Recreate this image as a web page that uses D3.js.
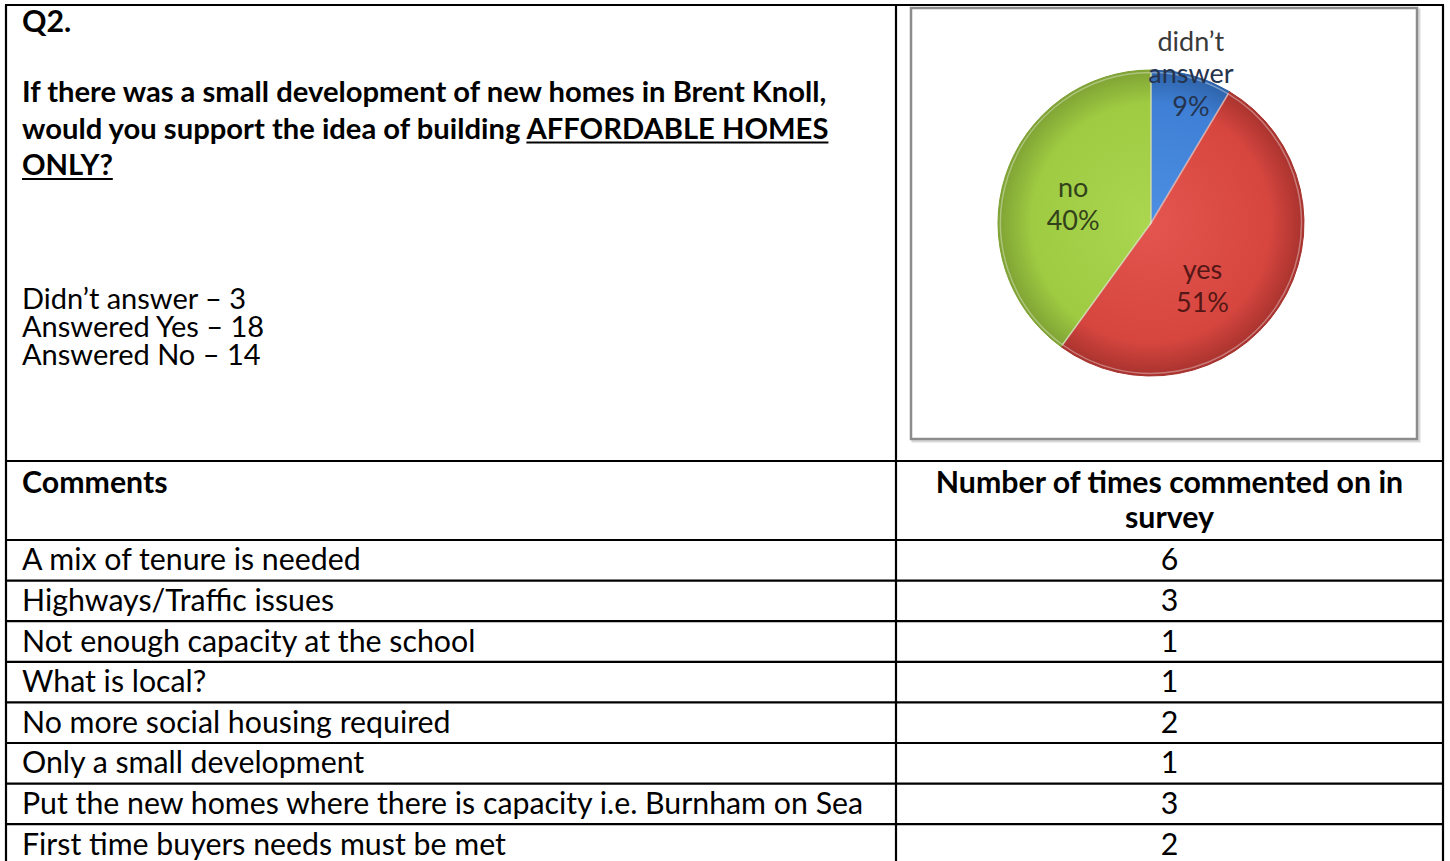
<!DOCTYPE html>
<html><head><meta charset="utf-8">
<script src="https://cdn.jsdelivr.net/npm/d3@7"></script>
<style>html,body{margin:0;padding:0;background:#fff;} svg{display:block;font-family:Lato,"Liberation Sans",sans-serif;}</style>
</head><body><svg id="chart" width="1450" height="861"></svg>
<script>
// ---------- data ----------
const questionLabel = "Q2.";
const questionText = [
  [{t:"If there was a small development of new homes in Brent Knoll,", u:false}],
  [{t:"would you support the idea of building ", u:false},{t:"AFFORDABLE HOMES", u:true}],
  [{t:"ONLY?", u:true}]
];
const pieCategories = ["didn’t answer","yes","no"];
const pieValues = [3,18,14];
const summaryLabels = ["Didn’t answer","Answered Yes","Answered No"];
const summaryValues = [3,18,14];
const headerLeft = "Comments";
const headerRight = ["Number of times commented on in","survey"];
const comments = [
  "A mix of tenure is needed",
  "Highways/Traffic issues",
  "Not enough capacity at the school",
  "What is local?",
  "No more social housing required",
  "Only a small development",
  "Put the new homes where there is capacity i.e. Burnham on Sea",
  "First time buyers needs must be met"
];
const commentCounts = [6,3,1,1,2,1,3,2];

// ---------- layout ----------
const W = 1450, H = 861;
const L = 6, R = 1443, T = 5, colX = 896;
const headerTop = 461, bodyTop = 540, rowH = 40.6;
const FS = 30.3;
const svg = d3.select("#chart");
svg.append("rect").attr("width",W).attr("height",H).attr("fill","#fff");

const rowY = d3.scaleLinear().domain([0, comments.length]).range([bodyTop, bodyTop + rowH*comments.length]);

// ---------- pie ----------
const cx = 1151, cy = 223, r = 153;
const frame = {x:911, y:8, w:506, h:431};
svg.append("rect").attr("x",frame.x+2).attr("y",frame.y+2).attr("width",frame.w).attr("height",frame.h)
  .attr("fill","none").attr("stroke","#d9d9d9").attr("stroke-width",3);
svg.append("rect").attr("x",frame.x).attr("y",frame.y).attr("width",frame.w).attr("height",frame.h)
  .attr("fill","#fff").attr("stroke","#8c8c8c").attr("stroke-width",2.5);

const sliceColors = {
  "didn’t answer": ["#4d8fe2","#3f80d6","#2d62a8"],
  "yes": ["#e4554f","#d6463f","#a8322e"],
  "no": ["#aad650","#9ecb42","#7fa234"]
};
const labelColors = {"didn’t answer":"#25334d","yes":"#551715","no":"#33421a"};
// label placement tuning (polar: radius factor, angle shift in degrees)
const labelPlace = {"didn’t answer":{k:0.98, da:0, dy:-4}, "yes":{k:0.54, da:18, dy:-1}, "no":{k:0.52, da:-6, dy:-2}};
const defs = svg.append("defs");
pieCategories.forEach((c,i)=>{
  const g = defs.append("radialGradient").attr("id","g"+i)
    .attr("gradientUnits","userSpaceOnUse").attr("cx",0).attr("cy",0).attr("r",r);
  g.append("stop").attr("offset","0%").attr("stop-color",sliceColors[c][0]);
  g.append("stop").attr("offset","78%").attr("stop-color",sliceColors[c][1]);
  g.append("stop").attr("offset","100%").attr("stop-color",sliceColors[c][2]);
});
const pie = d3.pie().sort(null).value(d=>d.v);
const pdata = pie(pieCategories.map((c,i)=>({c, v:pieValues[i], i})));
const arc = d3.arc().innerRadius(0).outerRadius(r);
const pg = svg.append("g").attr("transform",`translate(${cx},${cy})`);
pg.selectAll("path").data(pdata).join("path")
  .attr("d",arc).attr("fill",d=>`url(#g${d.data.i})`)
  .attr("stroke",d=>sliceColors[d.data.c][2]).attr("stroke-width",1);
// light bevel along slice edges
pg.selectAll("path.bevel").data(pdata).join("path").attr("class","bevel")
  .attr("d",d3.arc().innerRadius(0).outerRadius(r-2.5)).attr("fill","none")
  .attr("stroke","rgba(255,255,255,0.35)").attr("stroke-width",1.5);
const total = d3.sum(pieValues);
const pct = d3.format(".0%");
pdata.forEach(d=>{
  const p = labelPlace[d.data.c];
  const lr = r*p.k;
  const a = (d.startAngle+d.endAngle)/2 + p.da*Math.PI/180;
  const x = lr*Math.sin(a), y = -lr*Math.cos(a) + p.dy;
  const words = d.data.c.split(" ");
  const lines = [...words, pct(d.data.v/total)];
  const lh = 32.5;
  const t = pg.append("text").attr("text-anchor","middle").attr("font-size",27)
    .attr("fill",labelColors[d.data.c]);
  lines.forEach((ln,k)=>{
    t.append("tspan").attr("x",x).attr("y",y + (k-(lines.length-1)/2)*lh + 9)
      .attr("fill", (d.data.c==="didn’t answer" && k===0) ? "#3a3a3a" : null).text(ln);
  });
});

// ---------- table lines ----------
const lines = svg.append("g").attr("stroke","#000").attr("stroke-width",2.2);
const hy = [T, headerTop, ...d3.range(comments.length+1).map(i=>rowY(i))];
hy.forEach(y=>lines.append("line").attr("x1",L-1).attr("x2",R+1).attr("y1",y).attr("y2",y));
[L, colX, R].forEach(x=>lines.append("line").attr("x1",x).attr("x2",x).attr("y1",T).attr("y2",H+10));

// ---------- question text ----------
const tx = 22;
svg.append("text").attr("x",tx).attr("y",32).attr("font-size",FS).attr("font-weight","bold").text(questionLabel);
questionText.forEach((segs,k)=>{
  const y = 102 + k*36.5;
  const t = svg.append("text").attr("x",tx).attr("y",y).attr("font-size",29.2).attr("font-weight","bold");
  const spans = segs.map(s=>t.append("tspan").text(s.t));
  let x = tx;
  segs.forEach((s,j)=>{
    const w = spans[j].node().getComputedTextLength();
    if(s.u) svg.append("line").attr("x1",x).attr("x2",x+w).attr("y1",y+4).attr("y2",y+4).attr("stroke","#000").attr("stroke-width",2);
    x += w;
  });
});
summaryLabels.forEach((s,k)=>{
  svg.append("text").attr("x",tx).attr("y",309 + k*28).attr("font-size",29).text(`${s} – ${summaryValues[k]}`);
});

// ---------- header ----------
svg.append("text").attr("x",tx).attr("y",493).attr("font-size",FS).attr("font-weight","bold").text(headerLeft);
const colC = (colX+R)/2;
headerRight.forEach((s,k)=>{
  svg.append("text").attr("x",colC).attr("y",493+k*35).attr("text-anchor","middle").attr("font-size",FS).attr("font-weight","bold").text(s);
});

// ---------- rows ----------
const body = svg.append("g").attr("font-size",FS);
body.selectAll("text.c").data(comments).join("text").attr("class","c")
  .attr("x",tx).attr("y",(d,i)=>rowY(i)+rowH/2+10).text(d=>d);
body.selectAll("text.n").data(commentCounts).join("text").attr("class","n")
  .attr("x",colC).attr("text-anchor","middle").attr("y",(d,i)=>rowY(i)+rowH/2+10).text(d=>d);
</script></body></html>
